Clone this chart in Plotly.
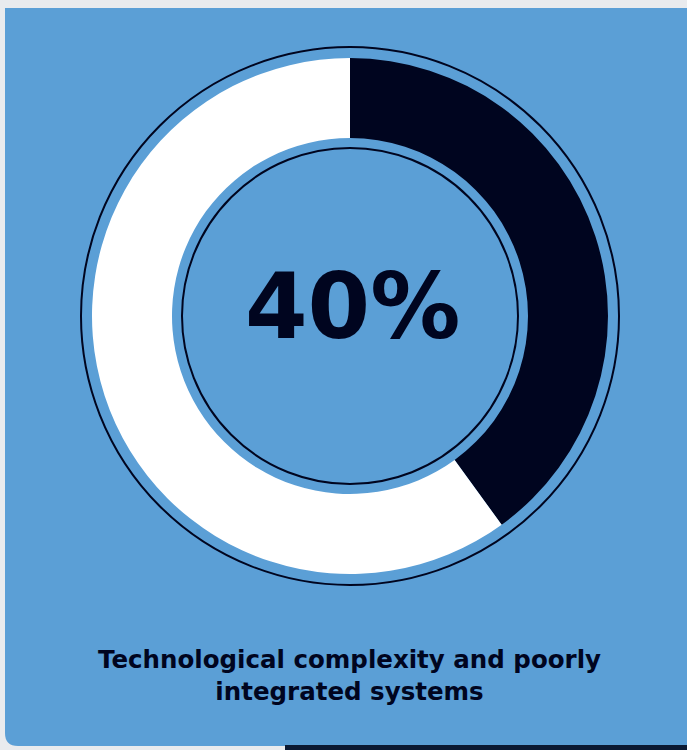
import plotly.graph_objects as go

# Share of respondents citing the challenge
labels = ["Cited", "Not cited"]
values = [40, 60]
headline = "40%"
caption_lines = ["Technological complexity and poorly", "integrated systems"]

W, H = 687, 750
CARD = "#5b9fd6"
NAVY = "#00051f"

cx, cy = 350, 316
r_out, r_in = 258, 178

fig = go.Figure()

fig.add_trace(go.Pie(
    labels=labels,
    values=values,
    sort=False,
    direction="clockwise",
    rotation=0,
    hole=r_in / r_out,
    marker=dict(colors=[NAVY, "#ffffff"], line=dict(width=0)),
    textinfo="none",
    hoverinfo="label+percent",
    showlegend=False,
    domain=dict(x=[(cx - r_out) / W, (cx + r_out) / W],
                y=[1 - (cy + r_out) / H, 1 - (cy - r_out) / H]),
))

# card with rounded bottom-left corner
rc = 13
card_path = (f"M 5,8 L {W+5},8 L {W+5},746 L {5+rc},746 "
             f"Q 5,746 5,{746-rc} Z")

shapes = [
    dict(type="path", path=card_path, fillcolor=CARD, line=dict(width=0), layer="below"),
    dict(type="rect", x0=285, x1=W + 5, y0=745, y1=H + 5,
         fillcolor="#0b1a33", line=dict(width=0), layer="below"),
    dict(type="circle", x0=cx - 269, x1=cx + 269, y0=cy - 269, y1=cy + 269,
         line=dict(color=NAVY, width=2), layer="below"),
    dict(type="circle", x0=cx - 168, x1=cx + 168, y0=cy - 168, y1=cy + 168,
         line=dict(color=NAVY, width=2), layer="below"),
]

annotations = [
    dict(x=352, y=306, xref="x", yref="y", text=f"<b>{headline}</b>", showarrow=False,
         font=dict(family="DejaVu Sans", size=90, color=NAVY), xanchor="center", yanchor="middle"),
    dict(x=349, y=675, xref="x", yref="y", text="<b>" + "<br>".join(caption_lines) + "</b>",
         showarrow=False, align="center",
         font=dict(family="DejaVu Sans", size=24.5, color=NAVY), xanchor="center", yanchor="middle"),
]

fig.update_layout(
    width=W, height=H,
    margin=dict(l=0, r=0, t=0, b=0),
    paper_bgcolor="#e9ebee",
    plot_bgcolor="rgba(0,0,0,0)",
    xaxis=dict(range=[0, W], visible=False, fixedrange=True),
    yaxis=dict(range=[H, 0], visible=False, fixedrange=True),
    shapes=shapes,
    annotations=annotations,
)

fig.write_html("out.html")
